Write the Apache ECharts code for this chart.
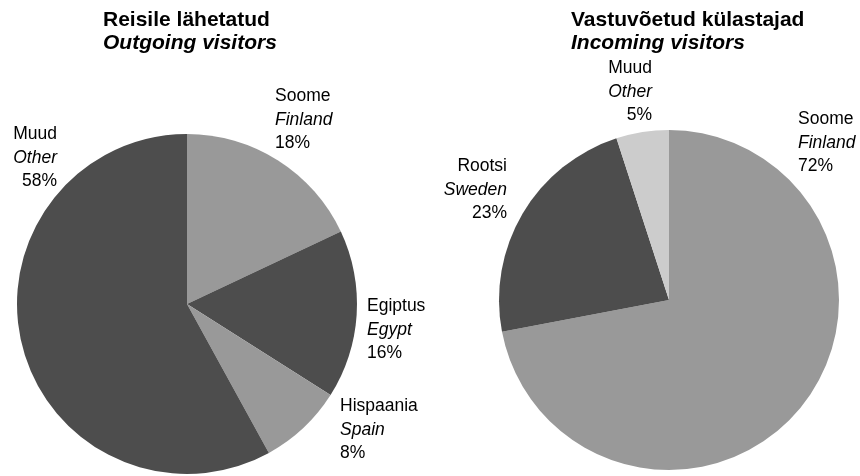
<!DOCTYPE html>
<html>
<head>
<meta charset="utf-8">
<script src="https://cdn.jsdelivr.net/npm/echarts@6/dist/echarts.min.js"></script>
<style>
html,body{margin:0;padding:0;background:#fff;}
#main{width:860px;height:476px;}
</style>
</head>
<body>
<div id="main"></div>
<script>
const leftNames = ['Soome', 'Egiptus', 'Hispaania', 'Muud'];
const leftNamesEn = ['Finland', 'Egypt', 'Spain', 'Other'];
const leftValues = [18, 16, 8, 58];
const rightNames = ['Soome', 'Rootsi', 'Muud'];
const rightNamesEn = ['Finland', 'Sweden', 'Other'];
const rightValues = [72, 23, 5];

const leftColors = ['#999999', '#4d4d4d', '#999999', '#4d4d4d'];
const rightColors = ['#999999', '#4d4d4d', '#cccccc'];

// label anchor placement (style only)
const labelPos = [
  [ {x: 275, y: 120, align: 'left'}, {x: 367, y: 330, align: 'left'}, {x: 340, y: 430, align: 'left'}, {x: 57, y: 158, align: 'right'} ],
  [ {x: 798, y: 143, align: 'left'}, {x: 507, y: 190, align: 'right'}, {x: 652, y: 92, align: 'right'} ]
];

const FONT = 'Arial, "Liberation Sans", sans-serif';
const FS = 17.5, LH = 23.5;

function mkData(names, en, vals, colors, side) {
  return vals.map((v, i) => ({
    value: v,
    name: names[i],
    en: en[i],
    itemStyle: {color: colors[i]},
    label: {
      formatter: (p) => {
        const r = labelPos[side][i].align === 'right' ? 'r' : 'l';
        return '{n' + r + '|' + p.name + '}\n{e' + r + '|' + p.data.en + '}\n{n' + r + '|' + p.value + '%}';
      }
    }
  }));
}

const rich = {
  nl: {fontFamily: FONT, fontSize: FS, lineHeight: LH, color: '#000', align: 'left'},
  el: {fontFamily: FONT, fontSize: FS, lineHeight: LH, color: '#000', fontStyle: 'italic', align: 'left'},
  nr: {fontFamily: FONT, fontSize: FS, lineHeight: LH, color: '#000', align: 'right'},
  er: {fontFamily: FONT, fontSize: FS, lineHeight: LH, color: '#000', fontStyle: 'italic', align: 'right'}
};

function mkSeries(idx, center, data) {
  return {
    type: 'pie',
    center: center,
    radius: 170,
    startAngle: 90,
    clockwise: true,
    avoidLabelOverlap: false,
    silent: true,
    data: data,
    itemStyle: {borderWidth: 0},
    label: {show: true, position: 'outside', rich: rich},
    labelLine: {show: false},
    labelLayout: function (params) {
      const p = labelPos[idx][params.dataIndex];
      return {x: p.x, y: p.y, align: p.align, verticalAlign: 'middle'};
    },
    emphasis: {disabled: true}
  };
}

const chart = echarts.init(document.getElementById('main'), null, {renderer: 'canvas'});
const titleRich = {
  a: {fontFamily: FONT, fontSize: 21, fontWeight: 'bold', lineHeight: 23.5, color: '#000'},
  b: {fontFamily: FONT, fontSize: 21, fontWeight: 'bold', fontStyle: 'italic', lineHeight: 23.5, color: '#000'}
};
chart.setOption({
  animation: false,
  backgroundColor: '#ffffff',
  title: [
    {text: '{a|Reisile lähetatud}\n{b|Outgoing visitors}', left: 103, top: 8, padding: 0, textStyle: {rich: titleRich}},
    {text: '{a|Vastuvõetud külastajad}\n{b|Incoming visitors}', left: 571, top: 8, padding: 0, textStyle: {rich: titleRich}}
  ],
  series: [
    mkSeries(0, [187, 304], mkData(leftNames, leftNamesEn, leftValues, leftColors, 0)),
    mkSeries(1, [669, 300], mkData(rightNames, rightNamesEn, rightValues, rightColors, 1))
  ]
});
</script>
</body>
</html>
